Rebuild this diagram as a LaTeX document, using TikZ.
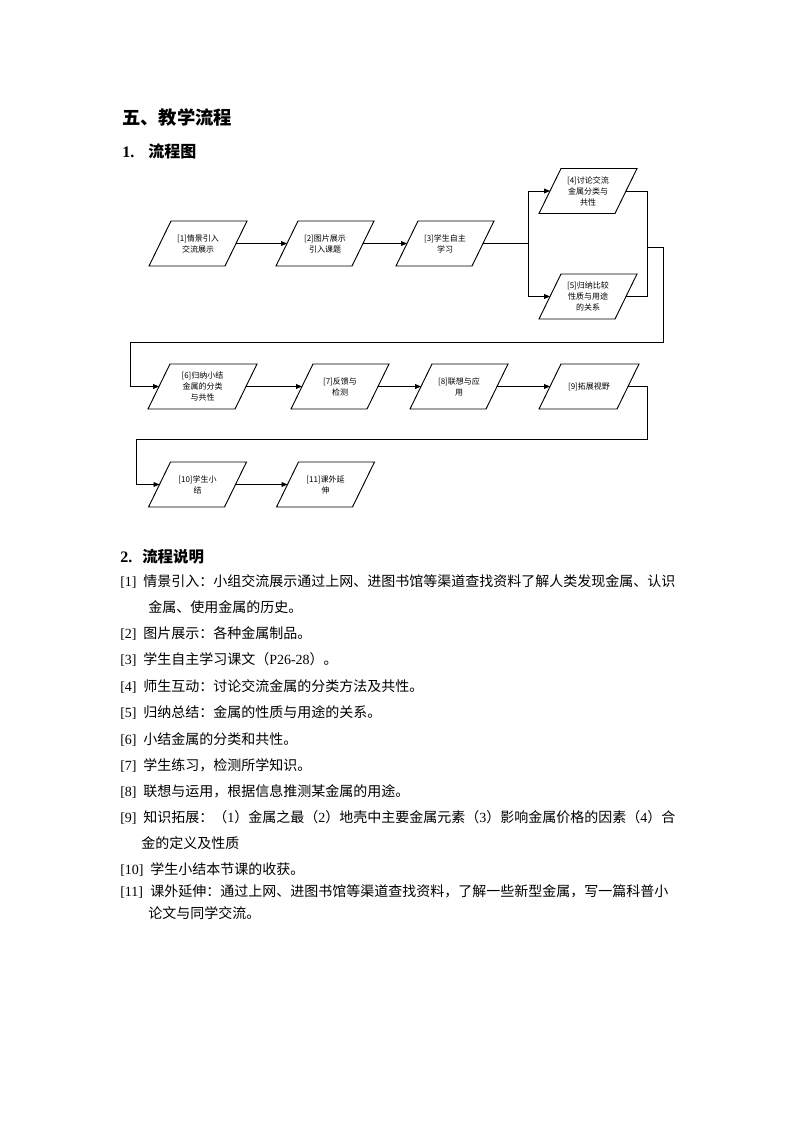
\documentclass[tikz,border=0pt]{standalone}
\usepackage{fontspec}
\setmainfont{Liberation Serif}
\newfontfamily\cjk{Noto Sans CJK SC}
\usetikzlibrary{arrows.meta,calc}

\tikzset{
  flowtxt/.style={align=center, inner sep=0pt, font=\cjk\fontsize{6pt}{8.25pt}\selectfont},
  shapeline/.style={line width=0.7pt, line join=miter},
  conn/.style={line width=0.7pt},
  arr/.style={conn, -{Triangle[length=4.5pt,width=3.6pt]}},
  body/.style={anchor=base west, inner sep=0pt, font=\cjk\fontsize{10.5pt}{12pt}\selectfont},
  lab/.style={anchor=base west, inner sep=0pt, font=\fontsize{10.5pt}{12pt}\selectfont},
  head/.style={anchor=base west, inner sep=0pt, font=\cjk\bfseries\fontsize{12pt}{14pt}\selectfont},
  headnum/.style={anchor=base west, inner sep=0pt, font=\bfseries\fontsize{12pt}{14pt}\selectfont},
}

% name, cx, cy, half width, text
\newcommand\para[5]{%
  \node[flowtxt] (#1) at (#2,#3) {#5};
  \draw[shapeline] ([shift={(-#4+11,-22.5)}]#1.center) -- ([shift={(#4+11,-22.5)}]#1.center)
     -- ([shift={(#4-11,22.5)}]#1.center) -- ([shift={(-#4-11,22.5)}]#1.center) -- cycle;
  \coordinate (#1-l) at ([shift={(-#4,0)}]#1.center);
  \coordinate (#1-r) at ([shift={(#4,0)}]#1.center);
}

\begin{document}
\begin{tikzpicture}[x=0.75pt,y=-0.75pt]
\useasboundingbox (0,0) rectangle (794,1123);

% headings
\node[anchor=base west, inner sep=0pt, font=\cjk\bfseries\fontsize{13.75pt}{16pt}\selectfont] (title) at (122,125) {五、教学流程};
\node[headnum] (h1n) at (122,158) {1.};
\node[head] (h1) at (148,158) {流程图};
\node[headnum] (h2n) at (120,562) {2.};
\node[anchor=base west, inner sep=0pt, font=\cjk\bfseries\fontsize{11.6pt}{14pt}\selectfont] (h2) at (142,562) {流程说明};

% flowchart shapes
\para{p1}{198}{243.5}{38}{[1]情景引入\\交流展示}
\para{p2}{325}{243.5}{38}{[2]图片展示\\引入课题}
\para{p3}{445}{243.5}{38}{[3]学生自主\\学习}
\para{p4}{588}{191}{38}{[4]讨论交流\\金属分类与\\共性}
\para{p5}{588}{296.5}{38}{[5]归纳比较\\性质与用途\\的关系}
\para{p6}{202.5}{386.5}{43.5}{[6]归纳小结\\金属的分类\\与共性}
\para{p7}{340}{386.5}{38}{[7]反馈与\\检测}
\para{p8}{459}{386.5}{38}{[8]联想与应\\用}
\para{p9}{589}{386.5}{39}{[9]拓展视野}
\para{p10}{197.5}{484.5}{38}{[10]学生小\\结}
\para{p11}{325.5}{484.5}{38}{[11]课外延\\伸}

% connectors
\draw[arr] (p1-r) -- (p2-l);
\draw[arr] (p2-r) -- (p3-l);
\coordinate (j3) at (528,243.5);
\draw[conn] (p3-r) -- (j3);
\draw[arr] (j3) |- (p4-l);
\draw[arr] (j3) |- (p5-l);
\coordinate (m) at (647,247);
\draw[conn] (p4-r) -| (m);
\draw[conn] (p5-r) -| (m);
\coordinate (r1) at (663,342);
\coordinate (l1) at (130,342);
\draw[arr] (m) -- (m -| r1) -- (r1) -- (l1) |- (p6-l);
\draw[arr] (p6-r) -- (p7-l);
\draw[arr] (p7-r) -- (p8-l);
\draw[arr] (p8-r) -- (p9-l);
\coordinate (r2) at (647,439);
\coordinate (l2) at (136,439);
\draw[arr] (p9-r) -| (r2) -- (l2) |- (p10-l);
\draw[arr] (p10-r) -- (p11-l);

% description list
\node[lab] (n1) at (120,586) {[1]};
\node[body] (t1) at (143,586) {情景引入：小组交流展示通过上网、进图书馆等渠道查找资料了解人类发现金属、认识};
\node[body] (t1b) at (148,612) {金属、使用金属的历史。};
\node[lab] (n2) at (120,638) {[2]};
\node[body] (t2) at (143,638) {图片展示：各种金属制品。};
\node[lab] (n3) at (120,664) {[3]};
\node[body] (t3) at (143,664) {学生自主学习课文（{\rmfamily P26-28}）。};
\node[lab] (n4) at (120,691) {[4]};
\node[body] (t4) at (143,691) {师生互动：讨论交流金属的分类方法及共性。};
\node[lab] (n5) at (120,717) {[5]};
\node[body] (t5) at (143,717) {归纳总结：金属的性质与用途的关系。};
\node[lab] (n6) at (120,744) {[6]};
\node[body] (t6) at (143,744) {小结金属的分类和共性。};
\node[lab] (n7) at (120,770) {[7]};
\node[body] (t7) at (143,770) {学生练习，检测所学知识。};
\node[lab] (n8) at (120,796) {[8]};
\node[body] (t8) at (143,796) {联想与运用，根据信息推测某金属的用途。};
\node[lab] (n9) at (120,822) {[9]};
\node[body] (t9) at (143,822) {知识拓展：（{\rmfamily 1}）金属之最（{\rmfamily 2}）地壳中主要金属元素（{\rmfamily 3}）影响金属价格的因素（{\rmfamily 4}）合};
\node[body] (t9b) at (141,848) {金的定义及性质};
\node[lab] (n10) at (120,874) {[10]};
\node[body] (t10) at (150,874) {学生小结本节课的收获。};
\node[lab] (n11) at (120,896) {[11]};
\node[body] (t11) at (150,896) {课外延伸：通过上网、进图书馆等渠道查找资料，了解一些新型金属，写一篇科普小};
\node[body] (t11b) at (148,918) {论文与同学交流。};
\end{tikzpicture}
\end{document}
